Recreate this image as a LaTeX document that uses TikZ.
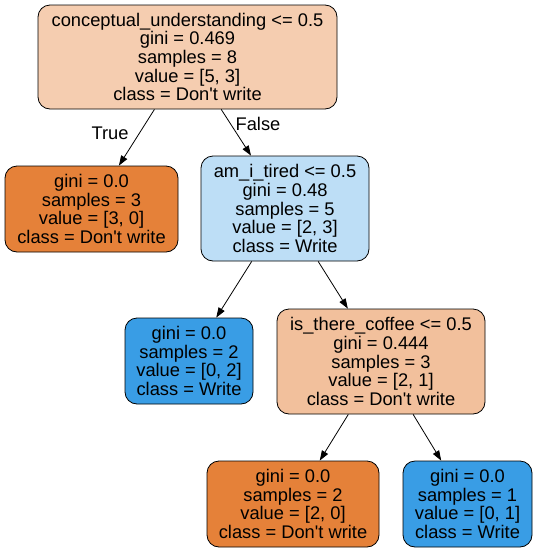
\documentclass[tikz,border=0pt]{standalone}
\usepackage{fontspec}
\setmainfont{Liberation Sans}
\usetikzlibrary{arrows.meta}

\definecolor{splitorange}{HTML}{F5CDB0}
\definecolor{splitlight}{HTML}{F2C09C}
\definecolor{splitblue}{HTML}{BDDEF6}
\definecolor{leaforange}{HTML}{E58139}
\definecolor{leafblue}{HTML}{399DE5}

\tikzset{
  treenode/.style={draw, line width=0.8pt, rounded corners=12pt, align=center,
    inner sep=0pt, font=\fontsize{18.3}{18.6}\selectfont},
  leafnode/.style={treenode, minimum height=86pt},
  splitnode/.style={treenode, minimum height=105pt},
  treeedge/.style={line width=0.8pt, -{Triangle[length=10pt,width=7pt]}},
  edgelabel/.style={font=\fontsize{18.3}{18.6}\selectfont}
}

\begin{document}
\begin{tikzpicture}[x=1pt,y=-1pt]
  \useasboundingbox (0,0) rectangle (537,552);

  % Splits
  \node[splitnode, fill=splitorange, minimum width=299pt, minimum height=104pt] (root) at (187.5,57)
    {conceptual\_understanding <= 0.5\\gini = 0.469\\samples = 8\\value = [5, 3]\\class = Don\textquotesingle t write};
  \node[splitnode, fill=splitblue, minimum width=168pt] (tired) at (285,208.5)
    {am\_i\_tired <= 0.5\\gini = 0.48\\samples = 5\\value = [2, 3]\\class = Write};
  \node[splitnode, fill=splitlight, minimum width=208pt] (coffee) at (381,361.5)
    {is\_there\_coffee <= 0.5\\gini = 0.444\\samples = 3\\value = [2, 1]\\class = Don\textquotesingle t write};

  % Leaves
  \node[leafnode, fill=leaforange, minimum width=173pt] (leafa) at (91.5,209)
    {gini = 0.0\\samples = 3\\value = [3, 0]\\class = Don\textquotesingle t write};
  \node[leafnode, fill=leafblue, minimum width=128pt] (leafb) at (189,361)
    {gini = 0.0\\samples = 2\\value = [0, 2]\\class = Write};
  \node[leafnode, fill=leaforange, minimum width=172pt] (leafc) at (293,504)
    {gini = 0.0\\samples = 2\\value = [2, 0]\\class = Don\textquotesingle t write};
  \node[leafnode, fill=leafblue, minimum width=129pt] (leafd) at (467.5,504)
    {gini = 0.0\\samples = 1\\value = [0, 1]\\class = Write};

  % Edges
  \draw[treeedge] (root) -- (leafa);
  \draw[treeedge] (root) -- (tired);
  \draw[treeedge] (tired) -- (leafb);
  \draw[treeedge] (tired) -- (coffee);
  \draw[treeedge] (coffee) -- (leafc);
  \draw[treeedge] (coffee) -- (leafd);

  \node[edgelabel] (truelabel) at (110,133) {True};
  \node[edgelabel] (falselabel) at (258,124) {False};
\end{tikzpicture}
\end{document}
